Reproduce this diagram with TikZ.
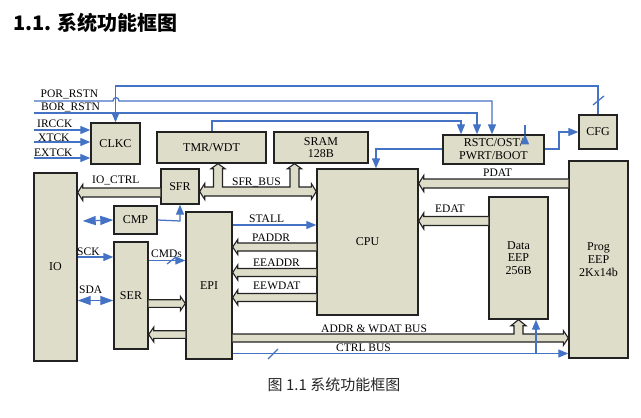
\documentclass[tikz,border=0pt]{standalone}
\usepackage{fontspec}
\setmainfont{Liberation Serif}
\newfontfamily\cjk{Noto Sans CJK SC}
\usetikzlibrary{arrows.meta,calc}
\definecolor{boxfill}{HTML}{DDDDC9}
\definecolor{sigblue}{HTML}{4472C4}
\definecolor{edge}{HTML}{222222}
\tikzset{
  blk/.style={draw=edge, line width=1.4pt, fill=boxfill, inner sep=0pt, align=center,
    font=\fontsize{12}{12.8}\selectfont},
  sig/.style={draw=sigblue, line width=1.25pt},
  sigarr/.style={sig, -{Triangle[length=10pt,width=8pt]}},
  dblarr/.style={sig, {Triangle[length=13pt,width=9pt]}-{Triangle[length=13pt,width=9pt]}},
  bus/.style={draw=edge, line width=1.1pt, fill=boxfill, line join=miter},
  lbl/.style={font=\fontsize{11.5}{13}\selectfont, inner sep=0pt, anchor=base west},
  fatL/.style={to path={($(\tikztostart)+(0,-#1)$) -- ($(\tikztotarget)+(5,-#1)$) -- ($(\tikztotarget)+(5,-#1-3.5)$) -- (\tikztotarget) -- ($(\tikztotarget)+(5,#1+3.5)$) -- ($(\tikztotarget)+(5,#1)$) -- ($(\tikztostart)+(0,#1)$)}},
  fatL/.default=4.5,
  fatR/.style={to path={($(\tikztostart)+(0,-#1)$) -- ($(\tikztotarget)+(-5,-#1)$) -- ($(\tikztotarget)+(-5,-#1-3.5)$) -- (\tikztotarget) -- ($(\tikztotarget)+(-5,#1+3.5)$) -- ($(\tikztotarget)+(-5,#1)$) -- ($(\tikztostart)+(0,#1)$)}},
  fatR/.default=4.5,
}
\begin{document}
\begin{tikzpicture}[x=1pt,y=-1pt]
\useasboundingbox (0,0) rectangle (641,418);

% title and caption
\node[anchor=west, inner sep=0pt, font=\cjk\bfseries\fontsize{20}{24}\selectfont] (title) at (13,22.5) {1.1. 系统功能框图};
\node[inner sep=0pt, text=black!85, font=\cjk\fontsize{15}{18}\selectfont] (caption) at (334,385) {图 1.1 系统功能框图};

% blocks
\node[blk, minimum width=49, minimum height=41] (clkc) at (115.5,143.5) {CLKC};
\node[blk, minimum width=109, minimum height=31] (tmr) at (211.5,147.5) {TMR/WDT};
\node[blk, minimum width=94, minimum height=31] (sram) at (321,147.5) {SRAM\\128B};
\node[blk, minimum width=101, minimum height=29] (rstc) at (493.5,149.5) {RSTC/OST/\\PWRT/BOOT};
\node[blk, minimum width=38, minimum height=34] (cfg) at (598,132) {CFG};
\node[blk, minimum width=101, minimum height=146] (cpu) at (367.5,242) {CPU};
\node[blk, minimum width=59, minimum height=197] (prog) at (598.5,259.5) {Prog\\EEP\\2Kx14b};
\node[blk, minimum width=59, minimum height=122] (data) at (518.5,258) {Data\\EEP\\256B};
\node[blk, minimum width=43, minimum height=188] (io) at (55.5,267) {IO};
\node[blk, minimum width=38, minimum height=35] (sfr) at (180,186.5) {SFR};
\node[blk, minimum width=43, minimum height=28] (cmp) at (135.5,220) {CMP};
\node[blk, minimum width=34, minimum height=107] (ser) at (131,295.5) {SER};
\node[blk, minimum width=46, minimum height=147] (epi) at (209,285.5) {EPI};

% free ends
\coordinate (porin) at (34,101);
\coordinate (borin) at (34,113);
\coordinate (ircin) at (34,130);
\coordinate (xtin) at (34,142);
\coordinate (extin) at (34,158);

% top control lines
\draw[sigarr] (cfg.north) -- (cfg.north |- 0,86) -- (clkc.north |- 0,86) -- (clkc.north);
\draw[sigarr] (rstc.north -| 525,0 |- 0,86) -- (rstc.north -| 525,0);
\draw[sig] (593,105) -- (604,96);
\draw[sigarr] (porin) -- (113,101) .. controls (113,96.5) and (119,96.5) .. (119,101) -- (492,101) -- (rstc.north -| 492,0);
\draw[sigarr] (borin) -- (477,113) -- (rstc.north -| 477,0);
\draw[sigarr] (tmr.north -| 212,0) -- (212,121) -- (461,121) -- (rstc.north -| 461,0);
\draw[sigarr] (rstc.west |- 0,149) -- (376,149) -- (cpu.north -| 376,0);
\draw[sigarr] (rstc.east |- 0,149) -- (559,149) -- (559,132) -- (cfg.west |- 0,132);

% clock inputs
\draw[sigarr] (ircin) -- (clkc.west |- ircin);
\draw[sigarr] (xtin) -- (clkc.west |- xtin);
\draw[sigarr] (extin) -- (clkc.west |- extin);

% SFR bus
\coordinate (sbl) at (sfr.east |- 0,191.5);
\coordinate (sbr) at (cpu.west |- 0,191.5);
\coordinate (sbt) at (tmr.south -| 218,0);
\coordinate (sbs) at (sram.south -| 294.5,0);
\filldraw[bus] (sbl) -- ($(sbl)+(5,-8)$) -- ($(sbl)+(5,-4.5)$)
  -- ($(sbt |- sbl)+(-4.5,-4.5)$) -- ($(sbt)+(-4.5,5)$) -- ($(sbt)+(-7,5)$) -- (sbt) -- ($(sbt)+(7,5)$) -- ($(sbt)+(4.5,5)$) -- ($(sbt |- sbl)+(4.5,-4.5)$)
  -- ($(sbs |- sbl)+(-4.5,-4.5)$) -- ($(sbs)+(-4.5,5)$) -- ($(sbs)+(-7,5)$) -- (sbs) -- ($(sbs)+(7,5)$) -- ($(sbs)+(4.5,5)$) -- ($(sbs |- sbl)+(4.5,-4.5)$)
  -- ($(sbr)+(-5,-4.5)$) -- ($(sbr)+(-5,-8)$) -- (sbr) -- ($(sbr)+(-5,8)$) -- ($(sbr)+(-5,4.5)$)
  -- ($(sbl)+(5,4.5)$) -- ($(sbl)+(5,8)$) -- cycle;

% simple buses
\filldraw[bus, fatL] (sfr.west |- 0,192.5) to (io.east |- 0,192.5);
\filldraw[bus, fatL] (prog.west |- 0,183.5) to (cpu.east |- 0,183.5);
\filldraw[bus, fatL] (data.west |- 0,221) to (cpu.east |- 0,221);
\filldraw[bus, fatL=4] (cpu.west |- 0,247) to (epi.east |- 0,247);
\filldraw[bus, fatL=4] (cpu.west |- 0,272.5) to (epi.east |- 0,272.5);
\filldraw[bus, fatL=4] (cpu.west |- 0,297.5) to (epi.east |- 0,297.5);
\filldraw[bus, fatR=3.8] (ser.east |- 0,303.5) to (epi.west |- 0,303.5);
\filldraw[bus, fatL=3.8] (epi.west |- 0,334.5) to (ser.east |- 0,334.5);

% ADDR & WDAT bus
\coordinate (abl) at (epi.east |- 0,338);
\coordinate (abr) at (prog.west |- 0,338);
\coordinate (abt) at (data.south);
\filldraw[bus] ($(abl)+(0,-4)$) -- ($(abt |- abl)+(-4.5,-4)$) -- ($(abt)+(-4.5,6)$) -- ($(abt)+(-7.5,6)$) -- (abt) -- ($(abt)+(7.5,6)$) -- ($(abt)+(4.5,6)$) -- ($(abt |- abl)+(4.5,-4)$)
  -- ($(abr)+(-5,-4)$) -- ($(abr)+(-5,-7.5)$) -- (abr) -- ($(abr)+(-5,7.5)$) -- ($(abr)+(-5,4)$) -- ($(abl)+(0,4)$);

% blue signals
\draw[sigarr] (epi.east |- 0,225) -- (cpu.west |- 0,225);
\draw[sigarr] (epi.east |- 0,353.5) -- (prog.west |- 0,353.5);
\draw[sig] (268,359) -- (278,349);
\draw[sigarr] (536,353.5) -- (data.south -| 536,0);
\draw[sigarr] (ser.east |- 0,260.5) -- (epi.west |- 0,260.5);
\draw[sig] (167,264) -- (176,257);
\draw[sigarr] (io.east |- 0,257) -- (ser.west |- 0,257);
\draw[dblarr] (io.east |- 0,300.5) -- (ser.west |- 0,300.5);
\draw[dblarr] ($(io.east |- 0,221)+(5,0)$) -- (cmp.west);
\draw[sigarr] (cmp.east) -- (180,221) -- (sfr.south);

% labels
\node[lbl] (lpor) at (40.5,97) {POR\_RSTN};
\node[lbl] (lbor) at (41,110) {BOR\_RSTN};
\node[lbl] (lirc) at (37,127.5) {IRCCK};
\node[lbl] (lxt) at (38,141) {XTCK};
\node[lbl] (lext) at (34,156) {EXTCK};
\node[lbl] (lioc) at (92,183) {IO\_CTRL};
\node[lbl] (lsfrb) at (232,185) {SFR\_BUS};
\node[lbl] (lpdat) at (483,176) {PDAT};
\node[lbl] (ledat) at (435,212) {EDAT};
\node[lbl] (lstall) at (249,222.5) {STALL};
\node[lbl] (lpaddr) at (252,241.5) {PADDR};
\node[lbl] (leeaddr) at (253,266.5) {EEADDR};
\node[lbl] (leewdat) at (253,289) {EEWDAT};
\node[lbl] (lcmds) at (151,257) {CMDs};
\node[lbl] (lsck) at (77,255) {SCK};
\node[lbl] (lsda) at (79,293) {SDA};
\node[lbl] (laddr) at (321,332) {ADDR \& WDAT BUS};
\node[lbl] (lctrl) at (336,351.5) {CTRL BUS};
\end{tikzpicture}
\end{document}
